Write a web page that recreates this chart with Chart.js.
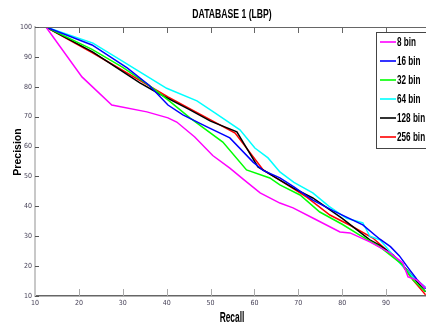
<!DOCTYPE html>
<html>
<head>
<meta charset="utf-8">
<script src="https://cdn.jsdelivr.net/npm/chart.js@4"></script>
<style>
  body { margin: 0; background: #fff; }
  #wrap { width: 426px; height: 329px; position: relative; }
</style>
</head>
<body>
<div id="wrap"><canvas id="myChart"></canvas></div>
<script>
// precision/recall curves
const binLabels = ["8 bin", "16 bin", "32 bin", "64 bin", "128 bin", "256 bin"];
const binColors = ["#ff00ff", "#0000ff", "#00ff00", "#00ffff", "#000000", "#ff0000"];

const recall8 = [12.5, 20.7, 27.5, 35.5, 40.3, 42.3, 46.4, 50.5, 54.4, 57.5, 61.3, 65.8, 68.8, 73.3, 79.5, 81.8, 86.3, 90.9, 93.8, 95, 97, 99];
const prec8 = [100, 83.3, 73.9, 71.6, 69.6, 68.2, 63.2, 57, 52.8, 49, 44.5, 41.1, 39.5, 36.1, 31.4, 31.1, 28.1, 24.4, 21.1, 16.4, 15.4, 12.7];

const recall16 = [12.5, 23, 31, 36, 40.3, 43.7, 49.2, 54.4, 59.7, 62, 65.8, 69, 73.3, 78, 84.7, 88.6, 91, 93, 95, 97, 99];
const prec16 = [100, 94, 86.3, 80.5, 73.9, 70.6, 66.6, 62.9, 54.8, 52, 49.5, 46.5, 42.1, 38.5, 33.8, 29, 26.5, 23.5, 19.5, 15.6, 12.4];

const recall32 = [12.5, 23, 30, 36, 40.3, 45.3, 52.8, 58.2, 63.5, 65.8, 70.4, 74.9, 80, 84, 88.6, 93.8, 96.1, 99];
const prec32 = [100, 92.5, 86.5, 80.5, 75.6, 69.6, 61.5, 52.2, 49.5, 47.2, 43.8, 38.1, 34, 30.4, 26.4, 20.4, 15.4, 11.4];

const recall64 = [12.5, 23.2, 30, 35, 40, 46.9, 51, 56.7, 60.1, 63.1, 65.8, 69, 73.3, 77, 81, 84.7, 86.3, 88.6, 93.1, 96.1, 99];
const prec64 = [100, 94.6, 88.5, 84, 79.5, 75.3, 71.3, 65.6, 59.5, 56.2, 51.5, 48, 44.5, 40, 36, 34.5, 30, 28.8, 21.1, 16.4, 13];

const recall128 = [12.5, 23.2, 33.9, 38.5, 45, 50, 56, 60.8, 65.8, 69, 73.3, 80, 86.3, 88.5, 91.6, 95.4, 99];
const prec128 = [100, 91.6, 81.3, 77.5, 72.5, 68.5, 64.9, 53.2, 48.8, 46, 42.8, 36, 28.8, 27, 23.8, 17.7, 11.4];

const recall256 = [12.5, 23.2, 40.3, 48, 55.6, 62, 65.8, 72, 77.2, 82, 87, 90, 93.1, 96.1, 99];
const prec256 = [100, 91.3, 76.6, 70.5, 64.5, 52.2, 48.8, 43, 37.1, 33.5, 29.4, 25.5, 21.4, 15.4, 10.4];

const xTicks = [10, 20, 30, 40, 50, 60, 70, 80, 90];
const yTicks = [10, 20, 30, 40, 50, 60, 70, 80, 90, 100];

const recalls = [recall8, recall16, recall32, recall64, recall128, recall256];
const precs = [prec8, prec16, prec32, prec64, prec128, prec256];

const pairUp = (xs, ys) => xs.map((v, i) => ({ x: v, y: ys[i] }));

var data = {
  datasets: binLabels.map((lbl, i) => ({
    label: lbl,
    data: pairUp(recalls[i], precs[i]),
    borderColor: binColors[i],
    backgroundColor: binColors[i],
    borderWidth: 1.5,
    pointRadius: 0,
    showLine: true,
    tension: 0,
  })),
};

// squeezed text, the figure is horizontally compressed
const squeezed = (ctx, text, x, y, sx) => {
  ctx.save();
  ctx.translate(x, y);
  ctx.scale(sx, 1);
  ctx.fillText(text, 0, 0);
  ctx.restore();
};

const decor = {
  id: "decor",
  afterDraw(chart) {
    const ctx = chart.ctx;
    const a = chart.chartArea;
    const xs = chart.scales.x;
    const ys = chart.scales.y;
    ctx.save();

    // top border
    ctx.strokeStyle = "#666";
    ctx.lineWidth = 1;
    ctx.beginPath();
    ctx.moveTo(a.left, a.top + 0.5);
    ctx.lineTo(a.right, a.top + 0.5);
    ctx.stroke();

    // inward ticks
    xTicks.forEach((t) => {
      const px = Math.round(xs.getPixelForValue(t)) + 0.5;
      if (t === 10) return;
      ctx.strokeStyle = "#666";
      ctx.beginPath();
      ctx.moveTo(px, a.top);
      ctx.lineTo(px, a.top + 6);
      ctx.stroke();
      ctx.strokeStyle = "#aaa";
      ctx.beginPath();
      ctx.moveTo(px, a.bottom);
      ctx.lineTo(px, a.bottom - 7);
      ctx.stroke();
    });
    ctx.strokeStyle = "#555";
    yTicks.forEach((t) => {
      const py = Math.round(ys.getPixelForValue(t)) + 0.5;
      ctx.beginPath();
      ctx.moveTo(a.left, py);
      ctx.lineTo(a.left + 4, py);
      ctx.stroke();
    });

    // title and axis names
    ctx.fillStyle = "#000";
    ctx.textAlign = "center";
    ctx.textBaseline = "middle";
    ctx.font = "bold 12px 'Liberation Sans', Arial, sans-serif";
    squeezed(ctx, "DATABASE 1 (LBP)", 232, 15, 0.72);
    ctx.font = "bold 14px 'Liberation Sans', Arial, sans-serif";
    squeezed(ctx, "Recall", 232, 318, 0.6);
    ctx.save();
    ctx.translate(18, 152);
    ctx.rotate(-Math.PI / 2);
    ctx.font = "bold 10.5px 'Liberation Sans', Arial, sans-serif";
    ctx.fillText("Precision", 0, 0);
    ctx.restore();

    // legend box
    const lx = 376, ly = 32, lw = 60, lh = 116;
    ctx.fillStyle = "#fff";
    ctx.fillRect(lx, ly, lw, lh);
    ctx.strokeStyle = "#444";
    ctx.lineWidth = 1;
    ctx.strokeRect(lx + 0.5, ly + 0.5, lw, lh);
    ctx.textAlign = "left";
    ctx.font = "bold 12px 'Liberation Sans', Arial, sans-serif";
    chart.data.datasets.forEach((ds, i) => {
      const yy = 42 + i * 19;
      ctx.strokeStyle = ds.borderColor;
      ctx.lineWidth = 1.6;
      ctx.beginPath();
      ctx.moveTo(380, yy);
      ctx.lineTo(396, yy);
      ctx.stroke();
      ctx.fillStyle = "#000";
      squeezed(ctx, ds.label, 397, yy + 1, 0.68);
    });
    ctx.restore();
  },
};

var prChart = new Chart(document.getElementById("myChart"), {
  type: "scatter",
  data: data,
  options: {
    responsive: true,
    maintainAspectRatio: false,
    animation: false,
    layout: { padding: { top: 27, right: 0, left: 0, bottom: 0 } },
    plugins: {
      legend: { display: false },
      title: { display: false },
      tooltip: { enabled: false },
    },
    scales: {
      x: {
        type: "linear",
        min: 10,
        max: 99.1,
        afterFit: (s) => { s.height = 33; },
        afterBuildTicks: (s) => { s.ticks = xTicks.map((v) => ({ value: v })); },
        grid: { drawOnChartArea: false, drawTicks: false },
        border: { color: "#666", width: 1.5 },
        ticks: {
          padding: 3,
          color: "#443f55",
          font: { family: "'Liberation Sans Narrow', 'DejaVu Sans Condensed', sans-serif", size: 7 },
        },
      },
      y: {
        type: "linear",
        min: 10,
        max: 100,
        afterFit: (s) => { s.width = 35; },
        afterBuildTicks: (s) => { s.ticks = yTicks.map((v) => ({ value: v })); },
        grid: { drawOnChartArea: false, drawTicks: false },
        border: { color: "#c8c8c8", width: 2 },
        ticks: {
          padding: 3,
          color: "#443f55",
          font: { family: "'Liberation Sans Narrow', 'DejaVu Sans Condensed', sans-serif", size: 7 },
        },
      },
    },
  },
  plugins: [decor],
});
</script>
</body>
</html>
